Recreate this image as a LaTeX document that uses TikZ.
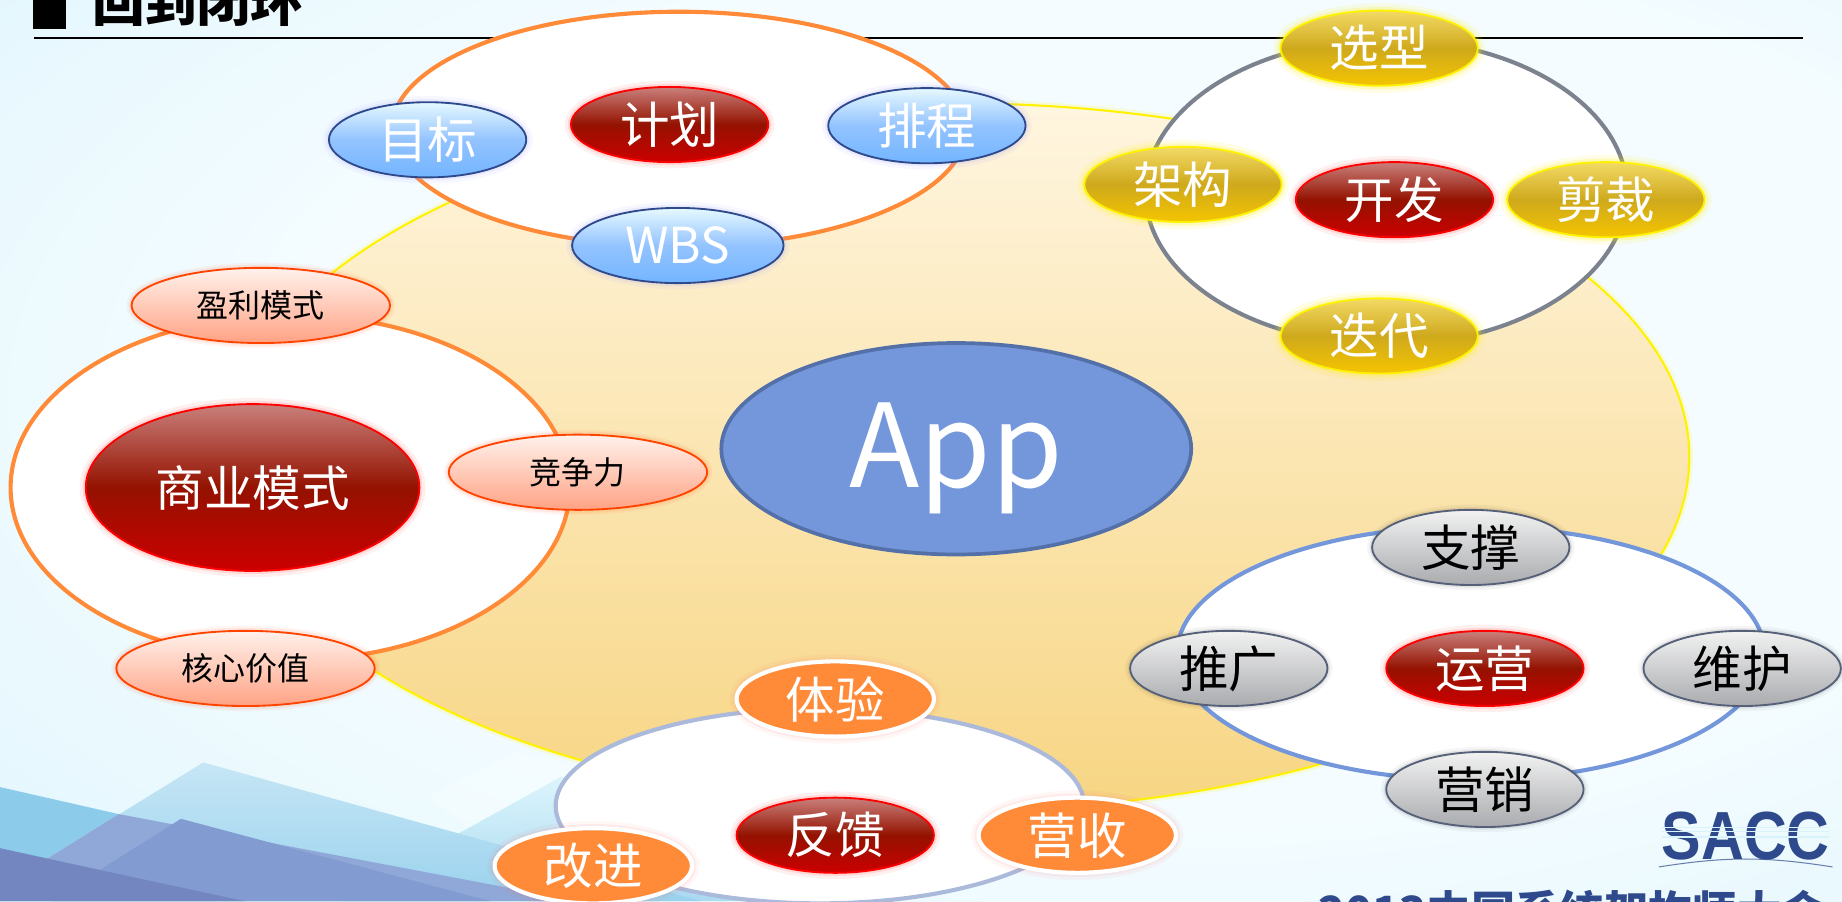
\documentclass[tikz,border=0pt]{standalone}
\usepackage{fontspec}
\setmainfont{Noto Sans CJK SC}
\newfontfamily\logofont{Liberation Sans}
\usepackage{xcolor}
\usetikzlibrary{shapes.geometric}
\definecolor{navy}{HTML}{2F4A8C}
\definecolor{ringorange}{HTML}{FF8A38}
\definecolor{ringblue}{HTML}{7397DA}
\definecolor{ringpale}{HTML}{ABB9DA}
\definecolor{ringslate}{HTML}{7C838E}
\definecolor{appedge}{HTML}{5470A8}
\definecolor{redtop}{HTML}{C9807C}
\definecolor{redmid}{HTML}{941200}
\definecolor{redlow}{HTML}{CC0000}
\definecolor{bluetop}{HTML}{E6F9FF}
\definecolor{bluemid}{HTML}{93C3FF}
\definecolor{bluelow}{HTML}{73B5FF}
\definecolor{goldtop}{HTML}{F2DA66}
\definecolor{goldmid}{HTML}{CFA91C}
\definecolor{goldlow}{HTML}{F4C400}
\definecolor{greytop}{HTML}{F2F2F2}
\definecolor{greylow}{HTML}{A9ABAE}
\definecolor{greyedge}{HTML}{566078}
\definecolor{peachedge}{HTML}{FF4400}
\definecolor{peachtop}{HTML}{FFF2EC}
\definecolor{peachlow}{HTML}{FFA284}
\definecolor{coretop}{HTML}{FFF6E0}
\definecolor{corelow}{HTML}{F7D583}
\definecolor{skyin}{HTML}{F4FCFF}
\definecolor{skymid}{HTML}{D6F3FC}
\definecolor{skyout}{HTML}{BEEAFA}
\definecolor{skylogo}{HTML}{D8F3FC}
\definecolor{paletop}{HTML}{C6E6F5}
\definecolor{palelow}{HTML}{9AD2EE}
\definecolor{wedgeblue}{HTML}{8CCBEA}
\definecolor{wedgemid}{HTML}{8FA8D8}
\definecolor{wedgedeep}{HTML}{829CD2}
\definecolor{wedgedark}{HTML}{7486C0}
\pgfdeclareradialshading{skyglow}{\pgfpoint{10bp}{5bp}}{color(0bp)=(skyin);color(24bp)=(skyin);color(50bp)=(skymid);color(71bp)=(skyout)}
\begin{document}
\begin{tikzpicture}[ring node/.style={ellipse,fill=white,line width=2pt,inner sep=0pt},
small node/.style={ellipse,inner sep=0pt,minimum width=3.36cm,minimum height=1.28cm,font=\fontsize{24}{26}\selectfont,text=white},
red node/.style={small node,draw=red,line width=.9pt,top color=redtop,bottom color=redlow,middle color=redmid,preaction={draw=red,line width=6pt,opacity=.06},preaction={draw=red,line width=3pt,opacity=.1}},
blue node/.style={small node,draw=navy,line width=.9pt,top color=bluetop,bottom color=bluelow,middle color=bluemid,preaction={draw=blue!40,line width=6pt,opacity=.08},preaction={draw=blue!40,line width=3pt,opacity=.12}},
gold node/.style={small node,draw=yellow,line width=.9pt,top color=goldtop,bottom color=goldlow,middle color=goldmid,preaction={draw=yellow,line width=7pt,opacity=.1},preaction={draw=yellow,line width=3.5pt,opacity=.2}},
grey node/.style={small node,text=black,draw=greyedge,line width=.9pt,top color=greytop,bottom color=greylow,preaction={draw=black,line width=5pt,opacity=.04},preaction={draw=black,line width=2.5pt,opacity=.07}},
orange node/.style={small node,draw=white,line width=2pt,fill=ringorange,preaction={draw=red!60,line width=7pt,opacity=.06},preaction={draw=red!60,line width=4pt,opacity=.08}},
peach node/.style={small node,text=black,minimum width=4.4cm,font=\fontsize{15.5}{18}\selectfont,draw=peachedge,line width=.9pt,top color=peachtop,bottom color=peachlow,preaction={draw=peachedge,line width=5pt,opacity=.05},preaction={draw=peachedge,line width=3pt,opacity=.08}}]
\clip (0,0) rectangle (31.36,-15.34);
\shade[shading=skyglow] (0,0) rectangle (31.36,-15.34);
\fill[white,opacity=.25] (7.3,-13.56) -- (8.8,-12.8) -- (10.4,-13.2) -- (8.2,-14.3) -- cycle;
\shade[top color=skymid,bottom color=palelow,opacity=.8] (6.78,-14.76) -- (9.56,-13.22) -- (13,-15.34) -- (5.8,-15.34) -- cycle;
\shade[top color=paletop,bottom color=palelow] (3.46,-12.98) -- (0,-15.12) -- (0,-15.34) -- (11.94,-15.34) -- cycle;
\fill[wedgeblue] (0,-13.4) -- (2.02,-13.86) -- (0,-15.12) -- cycle;
\fill[wedgemid] (2.02,-13.86) -- (6.78,-14.76) -- (9.84,-15.34) -- (0,-15.34) -- (0,-15.12) -- cycle;
\fill[wedgedeep] (3.08,-13.94) -- (8.34,-15.34) -- (0.86,-15.34) -- cycle;
\fill[wedgedark] (0,-14.44) -- (1.74,-14.82) -- (4.16,-15.34) -- (0,-15.34) -- cycle;
\node[fill=black,inner sep=0pt,minimum width=.56cm,minimum height=1cm] (bar) at (0.84,0) {};
\node[inner sep=0pt,font=\fontsize{25.5}{28}\bfseries\selectfont] (title) at (3.36,-0.02) {回到闭环};
\draw[line width=1pt] (0.58,-0.64) -- (30.7,-0.64);
\node[ellipse,inner sep=0pt,minimum width=24.92cm,minimum height=12.04cm,draw=yellow,line width=1pt,top color=coretop,bottom color=corelow,preaction={draw=yellow,line width=3.5pt,opacity=.15}] (core) at (16.3,-7.78) {};
\node[ring node,draw=ringorange,minimum width=9.78cm,minimum height=4cm] (plan ring) at (11.56,-2.2) {};
\node[ring node,draw=ringslate,minimum width=8.2cm,minimum height=5.2cm] (dev ring) at (23.6,-3.27) {};
\node[ring node,draw=ringorange,minimum width=9.52cm,minimum height=5.88cm] (biz ring) at (4.94,-8.3) {};
\node[ring node,draw=ringblue,minimum width=10cm,minimum height=4.32cm] (ops ring) at (25.04,-11.12) {};
\node[ring node,draw=ringpale,minimum width=9cm,minimum height=3.32cm] (loop ring) at (13.96,-13.72) {};
\node[ellipse,inner sep=0pt,minimum width=8cm,minimum height=3.6cm,draw=appedge,line width=1.8pt,fill=ringblue,text=white,font=\fontsize{56}{60}\selectfont] (app) at (16.28,-7.64) {\raisebox{-.66cm}[1cm][1cm]{App}};
\node[blue node] (goal) at (7.28,-2.38) {目标};
\node[red node] (plan) at (11.4,-2.12) {计划};
\node[blue node] (sched) at (15.78,-2.14) {排程};
\node[blue node,minimum width=3.6cm] (wbs) at (11.54,-4.18) {WBS};
\node[gold node] (pick) at (23.48,-0.82) {选型};
\node[gold node] (arch) at (20.14,-3.14) {架构};
\node[red node] (dev) at (23.74,-3.4) {开发};
\node[gold node] (trim) at (27.34,-3.4) {剪裁};
\node[gold node] (iter) at (23.48,-5.72) {迭代};
\node[peach node] (profit) at (4.44,-5.2) {盈利模式};
\node[red node,minimum width=5.68cm,minimum height=2.84cm,font=\fontsize{23.5}{26}\selectfont] (biz) at (4.3,-8.3) {商业模式};
\node[peach node] (edge) at (9.84,-8.04) {竞争力};
\node[peach node] (value) at (4.18,-11.38) {核心价值};
\node[grey node] (support) at (25.04,-9.32) {支撑};
\node[grey node] (promo) at (20.92,-11.38) {推广};
\node[red node] (ops) at (25.28,-11.38) {运营};
\node[grey node] (care) at (29.66,-11.38) {维护};
\node[grey node] (sales) at (25.28,-13.44) {营销};
\node[orange node] (try) at (14.22,-11.9) {体验};
\node[red node] (back) at (14.22,-14.22) {反馈};
\node[orange node] (income) at (18.34,-14.22) {营收};
\node[orange node] (better) at (10.1,-14.74) {改进};
\node[inner sep=0pt,xscale=.87,text=navy,font=\logofont\fontsize{33}{36}\bfseries\selectfont] (logo) at (29.72,-14.24) {SACC};
\draw[skylogo,line width=.5pt] (28.3,-14.08) -- (31.14,-14.08);
\draw[skylogo,line width=.5pt] (28.3,-14.16) -- (31.14,-14.16);
\draw[skylogo,line width=.5pt] (28.3,-14.25) -- (31.14,-14.25);
\draw[navy,line width=.5pt,opacity=.7] (28.24,-14.76) to[bend left=9] (31.2,-14.76);
\node[inner sep=0pt,text=navy,font=\fontsize{21.5}{24}\bfseries\selectfont,anchor=west] (footer) at (22.44,-15.52) {2013中国系统架构师大会};
\end{tikzpicture}
\end{document}
